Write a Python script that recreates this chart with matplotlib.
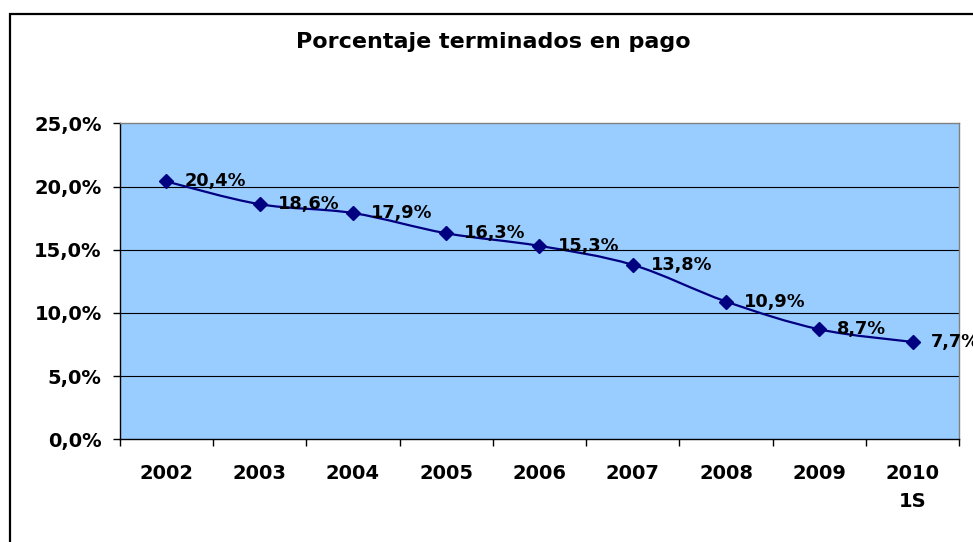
import matplotlib
matplotlib.use("Agg")
import matplotlib.pyplot as plt
from matplotlib.path import Path
from matplotlib.patches import PathPatch, Rectangle
import numpy as np

categories = ["2002", "2003", "2004", "2005", "2006", "2007", "2008", "2009", "2010\n1S"]
values = [20.4, 18.6, 17.9, 16.3, 15.3, 13.8, 10.9, 8.7, 7.7]
yticks = [0, 5, 10, 15, 20, 25]
title = "Porcentaje terminados en pago"

W, H = 973, 542
fig = plt.figure(figsize=(W / 100, H / 100), dpi=100)
plt.rcParams['font.family'] = ['DejaVu Sans']

left, right, top, bottom = 119.7, 959.3, 123.3, 439.3
ax = fig.add_axes([left / W, 1 - bottom / H, (right - left) / W, (bottom - top) / H])
ax.set_facecolor("#99CCFF")

n = len(values)
xs = np.arange(n)
ax.set_xlim(-0.5, n - 0.5)
ax.set_ylim(0, 25)

# smoothed line (Bezier path through the data points)
pts = np.column_stack([xs, values]).astype(float)
verts = [tuple(pts[0])]
codes = [Path.MOVETO]
for i in range(n - 1):
    p0 = pts[i - 1] if i > 0 else pts[i]
    p1 = pts[i]
    p2 = pts[i + 1]
    p3 = pts[i + 2] if i + 2 < n else pts[i + 1]
    c1 = p1 + (p2 - p0) / 6
    c2 = p2 - (p3 - p1) / 6
    verts += [tuple(c1), tuple(c2), tuple(p2)]
    codes += [Path.CURVE4] * 3
ax.add_patch(PathPatch(Path(verts, codes), facecolor="none", edgecolor="#000080", lw=1.6, zorder=3))
ax.plot(xs, values, linestyle="none", marker="D", ms=7.2, color="#000080", zorder=4)

for x, v in zip(xs, values):
    ax.annotate(f"{v:.1f}%".replace(".", ","), (x, v), xytext=(18, 0), textcoords="offset pixels",
                ha="left", va="center", fontsize=12.8, fontweight="bold", color="black",
                annotation_clip=False, zorder=5)

ax.set_yticks(yticks)
ax.set_yticklabels([f"{t:.1f}%".replace(".", ",") for t in yticks], fontsize=14, fontweight="bold")
ax.set_xticks(np.arange(-0.5, n, 1.0))
ax.set_xticklabels([])
ax.set_xticks(xs, minor=True)
ax.set_xticklabels(categories, minor=True, fontsize=14, fontweight="bold", linespacing=1.55)
ax.tick_params(axis="x", which="major", direction="out", length=5, width=1, color="black")
ax.tick_params(axis="x", which="minor", length=0, pad=18)
ax.tick_params(axis="y", direction="out", length=5, width=1, pad=8, color="black")

for g in yticks[1:-1]:
    ax.axhline(g, color="black", lw=0.8, zorder=1)

ax.spines["left"].set_color("black")
ax.spines["bottom"].set_color("black")
ax.spines["top"].set_color("#808080")
ax.spines["right"].set_color("#808080")
for s in ax.spines.values():
    s.set_linewidth(1.0)

fig.text(493.5 / W, 1 - 42 / H, title, ha="center", va="center", fontsize=16, fontweight="bold")

fig.patches.append(Rectangle((9.5 / W, -0.05), 1.1, 1 - 13.5 / H + 0.05, transform=fig.transFigure,
                             fill=False, edgecolor="black", lw=1.6, clip_on=False))

fig.savefig("out.png", dpi=100)
